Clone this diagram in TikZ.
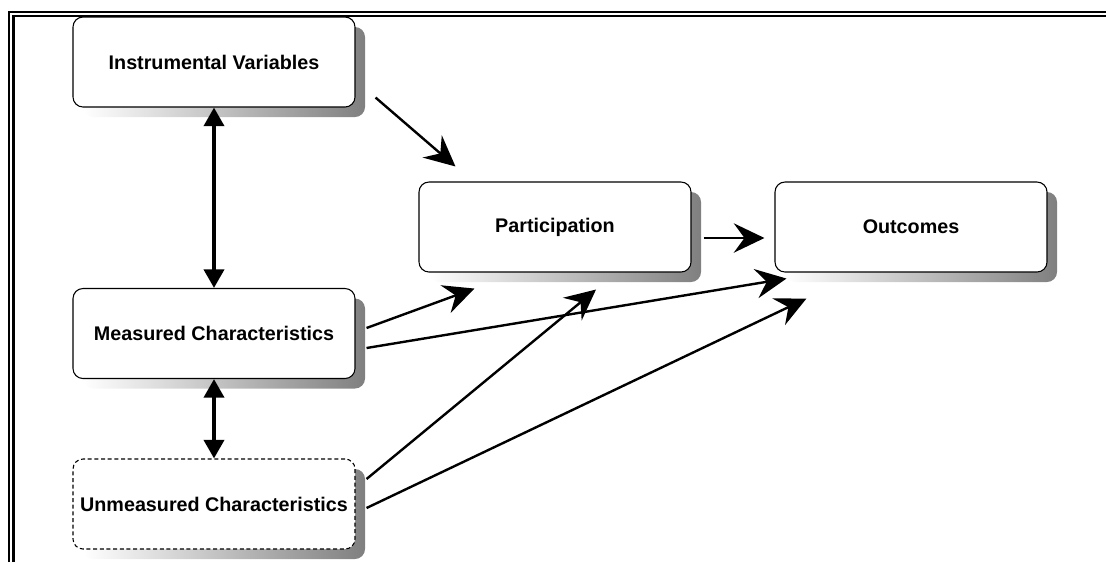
\documentclass[tikz,border=0pt]{standalone}
\usepackage{fontspec}
\setmainfont{Liberation Sans}
\usetikzlibrary{arrows.meta,shadows}

\begin{document}
\begin{tikzpicture}[x=0.75pt, y=-0.75pt,
    factor/.style={draw, fill=white, rounded corners=7.5pt, line width=0.8pt,
      minimum width=211.5pt, minimum height=67.5pt,
      font=\fontsize{14.8}{18}\selectfont\bfseries,
      general shadow={shadow xshift=7.5pt, shadow yshift=-7.5pt,
        left color=white, right color=black!50}},
    stage/.style={factor, minimum width=204pt},
    hidden/.style={factor, dash pattern=on 3pt off 2pt},
    effect/.style={line width=1.8pt, -{Stealth[length=23pt, width=22pt, inset=8pt]}},
    assoc/.style={line width=3pt,
      {Triangle[length=14pt, width=15pt]}-{Triangle[length=14pt, width=15pt]}}]
  \useasboundingbox (0,0) rectangle (1106,562);
  \draw[line width=1.6pt] (9,562) -- (9,12) -- (1106,12);
  \draw[line width=1.6pt] (13.5,562) -- (13.5,16) -- (1106,16);
  \node[factor] (iv) at (214, 62) {Instrumental Variables};
  \node[factor] (meas) at (214, 333.5) {Measured Characteristics};
  \node[hidden] (unmeas) at (214, 504) {Unmeasured Characteristics};
  \node[stage] (part) at (555, 227) {Participation};
  \node[stage] (out) at (911, 227) {Outcomes};
  \draw[assoc] (iv) -- (meas);
  \draw[assoc] (meas) -- (unmeas);
  \draw[effect] ([shift={(20,-10)}]iv.south east) -- ([shift={(37,-15)}]part.north west);
  \draw[effect] ([shift={(12,11)}]part.east) -- ([shift={(-10,11)}]out.west);
  \draw[effect] ([shift={(11,-5.5)}]meas.east) -- ([shift={(56,16)}]part.south west);
  \draw[effect] ([shift={(11,14.5)}]meas.east) -- ([shift={(12,6)}]out.south west);
  \draw[effect] ([shift={(11,-25)}]unmeas.east) -- ([shift={(41,17)}]part.south);
  \draw[effect] ([shift={(11,4)}]unmeas.east) -- ([shift={(32,26)}]out.south west);
\end{tikzpicture}
\end{document}
